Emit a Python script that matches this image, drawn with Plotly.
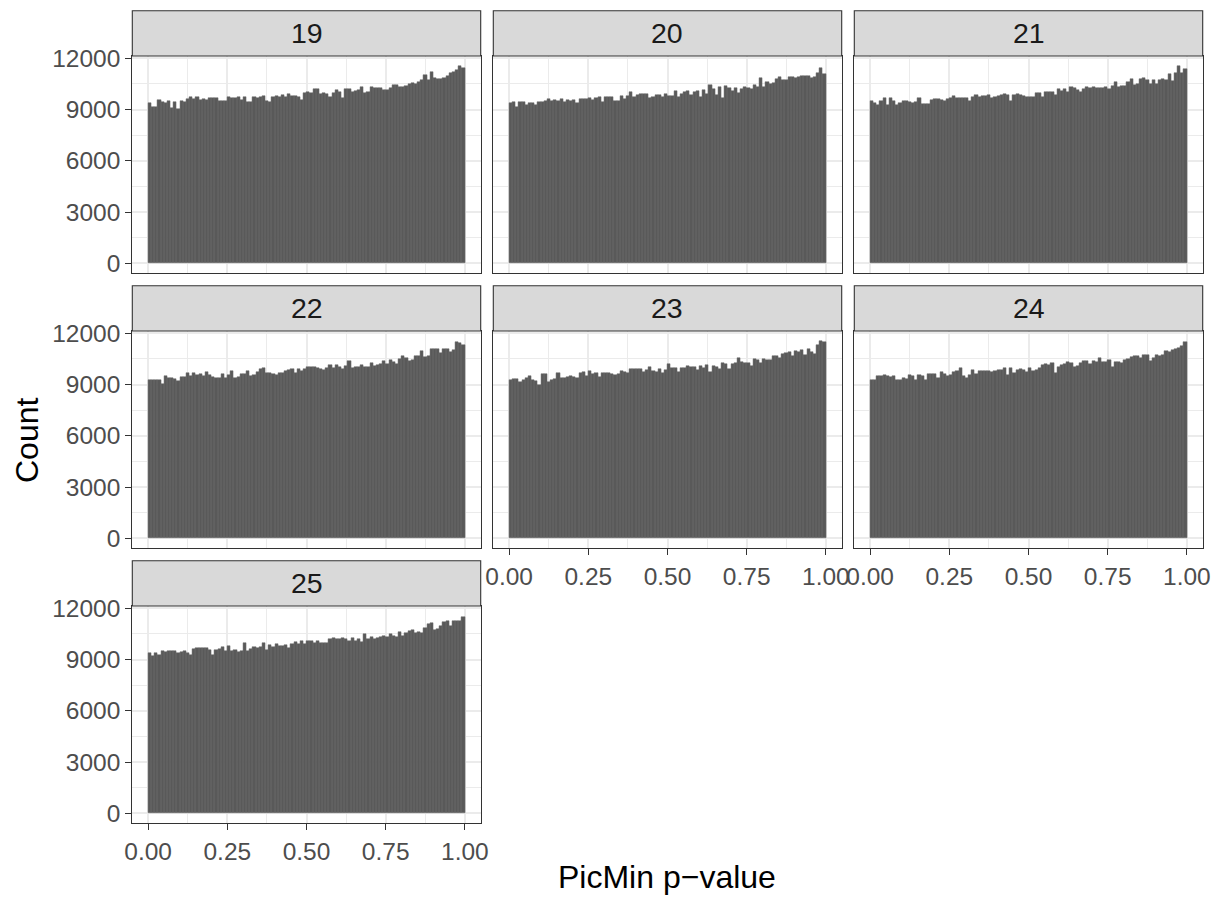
import plotly.graph_objects as go

# ---------------- data ----------------
PANEL_LABELS = ["19", "20", "21", "22", "23", "24", "25"]
BIN_WIDTH = 0.01
N_BINS = 100

X_TICKS = [0.0, 0.25, 0.5, 0.75, 1.0]
X_TICK_LABELS = ["0.00", "0.25", "0.50", "0.75", "1.00"]
Y_TICKS = [0, 3000, 6000, 9000, 12000]
Y_TICK_LABELS = ["0", "3000", "6000", "9000", "12000"]

counts_19 = [9360, 9160, 9160, 9560, 9420, 9360, 9500, 9100, 9420, 9060,
             9500, 9460, 9600, 9720, 9600, 9740, 9560, 9600, 9540, 9660,
             9680, 9680, 9520, 9520, 9520, 9760, 9700, 9660, 9720, 9560,
             9720, 9460, 9420, 9760, 9660, 9760, 9800, 9520, 9460, 9760,
             9800, 9760, 9880, 9720, 9900, 9820, 9780, 9760, 9560, 9960,
             10060, 10000, 10200, 10180, 9940, 9960, 9940, 9760, 9960, 10160,
             10060, 9660, 10200, 10220, 10060, 10100, 10160, 10300, 9980, 10060,
             10300, 10260, 10260, 10260, 10160, 10140, 10260, 10440, 10460, 10340,
             10340, 10380, 10520, 10540, 10500, 10600, 10740, 11040, 10720, 11220,
             10840, 10820, 10820, 10840, 10960, 11160, 11220, 11340, 11560, 11420]

counts_20 = [9400, 9460, 9160, 9460, 9460, 9260, 9360, 9400, 9300, 9420,
             9460, 9500, 9640, 9500, 9560, 9500, 9600, 9460, 9580, 9520,
             9540, 9360, 9640, 9600, 9600, 9660, 9560, 9700, 9740, 9460,
             9720, 9760, 9760, 9520, 9520, 9780, 9620, 9800, 10060, 9760,
             9860, 9900, 9900, 9940, 9660, 9760, 9840, 9840, 9760, 9900,
             9800, 9780, 10100, 9760, 9920, 10020, 10100, 9860, 10060, 10080,
             9760, 10120, 9900, 10440, 10200, 9860, 10300, 9700, 10400, 10260,
             10100, 10280, 9980, 10200, 10300, 10260, 10180, 10440, 10320, 10840,
             10340, 10620, 10520, 10560, 10780, 10900, 10760, 10740, 10900, 10900,
             10860, 10920, 10960, 10940, 10940, 10880, 10900, 11160, 11420, 11060]

counts_21 = [9500, 9400, 9300, 9520, 9700, 9260, 9700, 9500, 9260, 9360,
             9520, 9500, 9460, 9400, 9460, 9700, 9340, 9340, 9340, 9560,
             9620, 9600, 9560, 9500, 9620, 9660, 9820, 9700, 9700, 9660,
             9700, 9500, 9720, 9860, 9740, 9820, 9820, 9860, 9700, 9760,
             9820, 9860, 9900, 9860, 9500, 9860, 9940, 9860, 9820, 9760,
             9760, 9760, 9960, 9960, 9760, 10060, 10020, 10020, 9860, 10180,
             10100, 10180, 10060, 10320, 10260, 10160, 10060, 10220, 10340, 10260,
             10300, 10260, 10240, 10260, 10340, 10220, 10360, 10640, 10340, 10400,
             10380, 10600, 10820, 10460, 10500, 10820, 10840, 10740, 10500, 10760,
             10500, 10740, 10820, 10720, 11100, 10700, 11160, 11560, 11160, 11380]

counts_22 = [9300, 9300, 9300, 9300, 9060, 9520, 9400, 9360, 9320, 9220,
             9420, 9460, 9660, 9500, 9700, 9560, 9620, 9500, 9720, 9540,
             9460, 9400, 9360, 9600, 9400, 9560, 9800, 9400, 9420, 9600,
             9600, 9800, 9520, 9540, 9720, 9900, 9960, 9660, 9660, 9620,
             9560, 9660, 9700, 9820, 9860, 9900, 9700, 9920, 9820, 9920,
             10020, 10020, 10060, 10000, 9900, 9860, 9960, 10160, 9960, 10120,
             10060, 9900, 10100, 10360, 9960, 10060, 10060, 10160, 10060, 10020,
             10260, 10100, 10120, 10200, 10360, 10200, 10420, 10300, 10220, 10500,
             10660, 10560, 10360, 10460, 10660, 10660, 10960, 10620, 10700, 11100,
             11060, 11060, 10860, 11060, 11060, 10900, 11020, 11500, 11420, 11340]

counts_23 = [9260, 9320, 9320, 9160, 9300, 9360, 9520, 9260, 9220, 9000,
             9620, 9620, 9160, 9260, 9320, 9660, 9360, 9400, 9460, 9520,
             9420, 9400, 9660, 9720, 9520, 9780, 9600, 9660, 9420, 9660,
             9660, 9660, 9620, 9560, 9600, 9820, 9740, 9700, 9920, 9900,
             9900, 9900, 9760, 9860, 10020, 9820, 9760, 9900, 9660, 9860,
             10200, 10000, 10000, 9720, 9960, 10000, 10100, 10020, 10060, 9860,
             10100, 9960, 10160, 9760, 10100, 10060, 9920, 10260, 10220, 9900,
             10200, 10260, 10560, 10300, 10260, 10260, 10100, 10500, 10460, 10260,
             10500, 10420, 10460, 10700, 10660, 10560, 10820, 10860, 10900, 10660,
             10960, 10900, 11020, 10740, 11060, 10900, 10820, 11300, 11560, 11520]

counts_24 = [9300, 9260, 9500, 9520, 9560, 9520, 9460, 9520, 9300, 9300,
             9360, 9320, 9560, 9500, 9260, 9560, 9500, 9260, 9600, 9600,
             9600, 9400, 9720, 9620, 9520, 9560, 9760, 9800, 9960, 9520,
             9360, 9560, 9860, 9600, 9820, 9800, 9820, 9820, 9760, 9820,
             9860, 9860, 9960, 9560, 10000, 9660, 9860, 9900, 9860, 9760,
             9960, 9820, 9860, 9960, 10160, 10200, 10160, 10260, 9660, 10060,
             10160, 10200, 10300, 10260, 10060, 10100, 10260, 10360, 10400, 10200,
             10360, 10320, 10560, 10320, 10320, 10460, 10060, 10300, 10300, 10260,
             10420, 10500, 10600, 10660, 10660, 10560, 10760, 10720, 10380, 10560,
             10720, 10660, 10760, 10960, 10920, 11000, 11100, 11160, 11260, 11500]

counts_25 = [9360, 9220, 9380, 9280, 9520, 9420, 9480, 9520, 9520, 9380,
             9420, 9520, 9380, 9280, 9620, 9680, 9680, 9660, 9660, 9580,
             9280, 9560, 9620, 9720, 9520, 9780, 9520, 9580, 9460, 9520,
             9980, 9480, 9620, 9720, 9680, 9760, 9960, 9580, 9860, 9720,
             9900, 9800, 9800, 9860, 9660, 9900, 10060, 9940, 10100, 9940,
             10100, 10100, 10000, 10100, 9960, 10000, 10000, 10200, 10240, 10200,
             10200, 10240, 10200, 10100, 10260, 10100, 10200, 10060, 10520, 10180,
             10320, 10220, 10260, 10340, 10400, 10340, 10500, 10360, 10320, 10620,
             10360, 10580, 10680, 10720, 10580, 10620, 10560, 10880, 11080, 11160,
             10760, 10820, 10960, 11220, 11240, 10960, 11240, 11260, 11280, 11480]

ALL_COUNTS = [counts_19, counts_20, counts_21, counts_22, counts_23, counts_24, counts_25]

X_TITLE = "PicMin p\u2212value"
Y_TITLE = "Count"

# ---------------- layout geometry (pixels) ----------------
W, H = 1223, 897
COL_X = [(132.3, 480.7), (493.3, 841.7), (854.3, 1202.7)]
ROW_PITCH = 275.0
STRIP_TOP0, PLOT_TOP0, PLOT_BOT0 = 10.7, 56.0, 273.3

FONT = "Liberation Sans, Arial, Helvetica, sans-serif"
BAR_COLOR = "#595959"
GRID = "#EBEBEB"
BORDER = "#333333"


def px_x(v):
    return v / W


def px_y(v):
    return 1 - v / H


centers = [BIN_WIDTH * (i + 0.5) for i in range(N_BINS)]
ymax = max(max(c) for c in ALL_COUNTS)
y_range = [-0.05 * ymax, 1.05 * ymax]

fig = go.Figure()
shapes = []
annotations = []
layout_axes = {}

n_panels = len(PANEL_LABELS)
for idx, (label, vals) in enumerate(zip(PANEL_LABELS, ALL_COUNTS)):
    r, c = divmod(idx, 3)
    n = idx + 1
    xname = "x" if n == 1 else f"x{n}"
    yname = "y" if n == 1 else f"y{n}"
    fig.add_trace(go.Bar(
        x=centers, y=vals, width=BIN_WIDTH,
        marker=dict(color=BAR_COLOR, line=dict(width=0.5, color="#6C6C6C")),
        xaxis=xname, yaxis=yname, showlegend=False, hoverinfo="x+y",
    ))

    x0, x1 = COL_X[c]
    top = PLOT_TOP0 + r * ROW_PITCH
    bot = PLOT_BOT0 + r * ROW_PITCH
    stop = STRIP_TOP0 + r * ROW_PITCH

    below_idx = idx + 3
    show_x = below_idx >= n_panels
    show_y = c == 0

    layout_axes["xaxis" if n == 1 else f"xaxis{n}"] = dict(
        domain=[px_x(x0), px_x(x1)], anchor=yname, range=[-0.05, 1.05],
        automargin=False,
        tickvals=X_TICKS, ticktext=X_TICK_LABELS, showticklabels=show_x,
        ticks="outside" if show_x else "", ticklen=6, tickwidth=1.1, tickcolor=BORDER,
        tickfont=dict(family=FONT, size=24.5, color="#4D4D4D"),
        showgrid=True, gridcolor=GRID, gridwidth=1.6,
        minor=dict(tickvals=[0.125, 0.375, 0.625, 0.875], showgrid=True,
                   gridcolor=GRID, gridwidth=1.0, ticks=""),
        showline=True, mirror=True, linecolor=BORDER, linewidth=1.1,
        zeroline=False, fixedrange=True,
    )
    layout_axes["yaxis" if n == 1 else f"yaxis{n}"] = dict(
        domain=[px_y(bot), px_y(top)], anchor=xname, range=y_range,
        automargin=False,
        tickvals=Y_TICKS, ticktext=Y_TICK_LABELS, showticklabels=show_y,
        ticks="outside" if show_y else "", ticklen=6, tickwidth=1.1, tickcolor=BORDER,
        tickfont=dict(family=FONT, size=24.5, color="#4D4D4D"),
        showgrid=True, gridcolor=GRID, gridwidth=1.6,
        minor=dict(tickvals=[1500, 4500, 7500, 10500], showgrid=True,
                   gridcolor=GRID, gridwidth=1.0, ticks=""),
        showline=True, mirror=True, linecolor=BORDER, linewidth=1.1,
        zeroline=False, fixedrange=True,
    )

    shapes.append(dict(
        type="rect", xref="paper", yref="paper",
        x0=px_x(x0), x1=px_x(x1), y0=px_y(top), y1=px_y(stop),
        fillcolor="#D9D9D9", line=dict(color=BORDER, width=1.1), layer="above",
    ))
    annotations.append(dict(
        xref="paper", yref="paper", x=px_x((x0 + x1) / 2), y=px_y((stop + top) / 2),
        text=label, showarrow=False, xanchor="center", yanchor="middle",
        font=dict(family=FONT, size=28.5, color="#1A1A1A"),
    ))

annotations.append(dict(
    xref="paper", yref="paper", x=px_x(667.5), y=px_y(877),
    text=X_TITLE, showarrow=False, xanchor="center", yanchor="middle",
    font=dict(family=FONT, size=32, color="#000000"),
))
annotations.append(dict(
    xref="paper", yref="paper", x=px_x(27), y=px_y(440),
    text=Y_TITLE, showarrow=False, xanchor="center", yanchor="middle", textangle=-90,
    font=dict(family=FONT, size=32, color="#000000"),
))

fig.update_layout(
    width=W, height=H, autosize=False,
    margin=dict(l=0, r=0, t=0, b=0, autoexpand=False),
    paper_bgcolor="white", plot_bgcolor="white",
    bargap=0, barmode="overlay",
    shapes=shapes, annotations=annotations,
    **layout_axes,
)

fig.write_html("out.html", config={"displayModeBar": False},
               post_script="document.body.style.margin='0';document.body.style.padding='0';")
